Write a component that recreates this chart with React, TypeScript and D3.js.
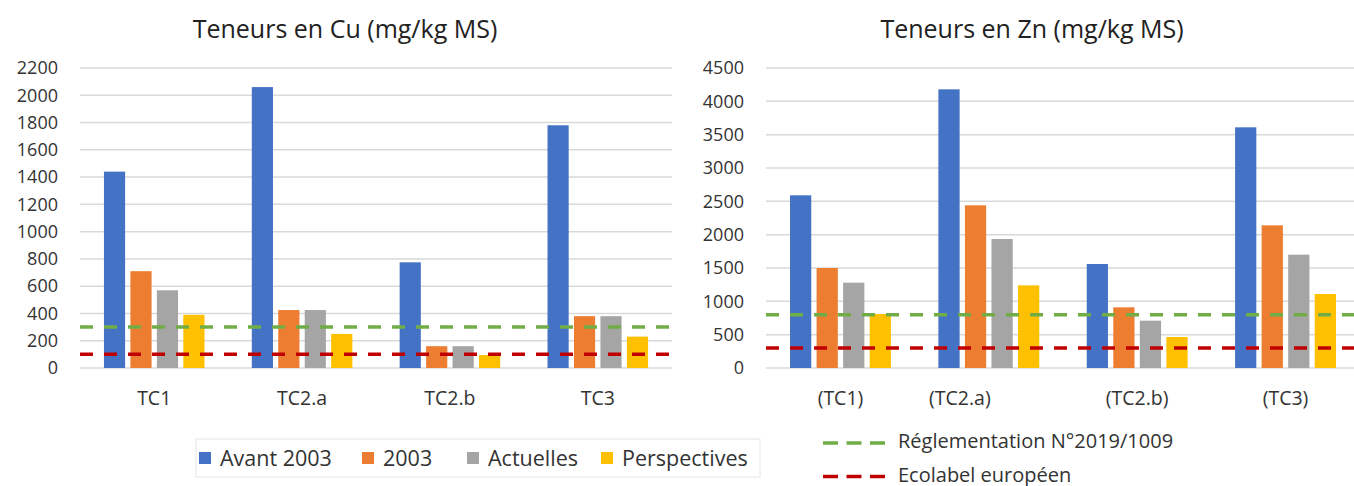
import React from 'react';
import * as d3 from 'd3';

// --- data ---
const seriesNames = ['Avant 2003', '2003', 'Actuelles', 'Perspectives'];
const seriesColors = ['#4472c4', '#ed7d31', '#a5a5a5', '#ffc000'];

const cuCategories = ['TC1', 'TC2.a', 'TC2.b', 'TC3'];
const cuAvant2003 = [1440, 2060, 775, 1780];
const cu2003 = [710, 425, 160, 380];
const cuActuelles = [570, 425, 160, 380];
const cuPerspectives = [390, 250, 95, 230];
const cuTicks = [0, 200, 400, 600, 800, 1000, 1200, 1400, 1600, 1800, 2000, 2200];
const cuReglementation = 300;
const cuEcolabel = 100;

const znCategories = ['(TC1)', '(TC2.a)', '(TC2.b)', '(TC3)'];
const znAvant2003 = [2590, 4180, 1560, 3610];
const zn2003 = [1500, 2440, 910, 2140];
const znActuelles = [1280, 1935, 710, 1700];
const znPerspectives = [810, 1240, 465, 1110];
const znTicks = [0, 500, 1000, 1500, 2000, 2500, 3000, 3500, 4000, 4500];
const znReglementation = 800;
const znEcolabel = 300;

const lineNames = ['Réglementation N°2019/1009', 'Ecolabel européen'];
const lineColors = ['#70ad47', '#c00000'];

const FONT = 'Open Sans, sans-serif';
const TEXT = '#333';

interface PanelProps {
  title: string;
  titleX: number;
  categories: string[];
  series: number[][];
  ticks: number[];
  reglementation: number;
  ecolabel: number;
  x0: number;
  x1: number;
  labelNudge?: Record<string, number>;
}

const Panel: React.FC<PanelProps> = ({ title, titleX, categories, series, ticks, reglementation, ecolabel, x0, x1, labelNudge = {} }) => {
  const top = 68;
  const bottom = 368;
  const y = d3.scaleLinear().domain([0, ticks[ticks.length - 1]]).range([bottom, top]);
  const xOuter = d3.scaleBand<string>().domain(categories).range([x0, x1]).paddingInner(0.32).paddingOuter(0.162);
  const xInner = d3.scaleBand<string>().domain(seriesNames).range([0, xOuter.bandwidth()]).paddingInner(0.2);

  return (
    <g>
      <text x={titleX} y={38} textAnchor="middle" fontFamily={FONT} fontSize={25} fill="#222">{title}</text>
      {ticks.map(t => (
        <g key={t}>
          <line x1={x0} x2={x1} y1={y(t)} y2={y(t)} stroke="#d9d9d9" strokeWidth={1.5} />
          <text x={x0 - 22} y={y(t)} dy="0.35em" textAnchor="end" fontFamily={FONT} fontSize={18} fill={TEXT}>{t}</text>
        </g>
      ))}
      {categories.map((c, ci) => (
        <g key={c}>
          {series.map((vals, si) => (
            <rect key={si}
              x={(xOuter(c) || 0) + (xInner(seriesNames[si]) || 0)}
              y={y(vals[ci])}
              width={xInner.bandwidth()}
              height={bottom - y(vals[ci])}
              fill={seriesColors[si]} />
          ))}
          <text x={(xOuter(c) || 0) + xOuter.bandwidth() / 2 + (labelNudge[c] || 0)} y={405}
            textAnchor="middle" fontFamily={FONT} fontSize={19.5} fill={TEXT}>{c}</text>
        </g>
      ))}
      <line x1={x0} x2={x1} y1={y(reglementation)} y2={y(reglementation)} stroke={lineColors[0]} strokeWidth={3.5} strokeDasharray="13 11" />
      <line x1={x0} x2={x1} y1={y(ecolabel)} y2={y(ecolabel)} stroke={lineColors[1]} strokeWidth={3.5} strokeDasharray="13 11" />
    </g>
  );
};

export default function App() {
  const legendX = [199, 362, 467, 601];
  return (
    <svg width={1354} height={486} style={{ position: 'absolute', left: 0, top: 0, background: '#fff' }}>
      <Panel title="Teneurs en Cu (mg/kg MS)" titleX={345} categories={cuCategories}
        series={[cuAvant2003, cu2003, cuActuelles, cuPerspectives]} ticks={cuTicks}
        reglementation={cuReglementation} ecolabel={cuEcolabel} x0={80} x1={672} />
      <Panel title="Teneurs en Zn (mg/kg MS)" titleX={1032} categories={znCategories}
        series={[znAvant2003, zn2003, znActuelles, znPerspectives]} ticks={znTicks}
        reglementation={znReglementation} ecolabel={znEcolabel} x0={766} x1={1360}
        labelNudge={{ '(TC2.a)': -29 }} />

      {/* series legend */}
      <rect x={196} y={439} width={564} height={38} fill="none" stroke="#e6e6e6" strokeWidth={1} />
      {seriesNames.map((s, i) => (
        <g key={s}>
          <rect x={legendX[i]} y={452} width={12} height={12} fill={seriesColors[i]} />
          <text x={legendX[i] + 21} y={458} dy="0.35em" fontFamily={FONT} fontSize={21.5} fill={TEXT}>{s}</text>
        </g>
      ))}

      {/* threshold legend */}
      {lineNames.map((n, i) => (
        <g key={n}>
          <line x1={823} x2={886} y1={443 + i * 33.5} y2={443 + i * 33.5} stroke={lineColors[i]} strokeWidth={3.5} strokeDasharray="15 8.5" />
          <text x={898} y={441 + i * 33.5} dy="0.35em" fontFamily={FONT} fontSize={20} fill={TEXT}>{n}</text>
        </g>
      ))}
    </svg>
  );
}
